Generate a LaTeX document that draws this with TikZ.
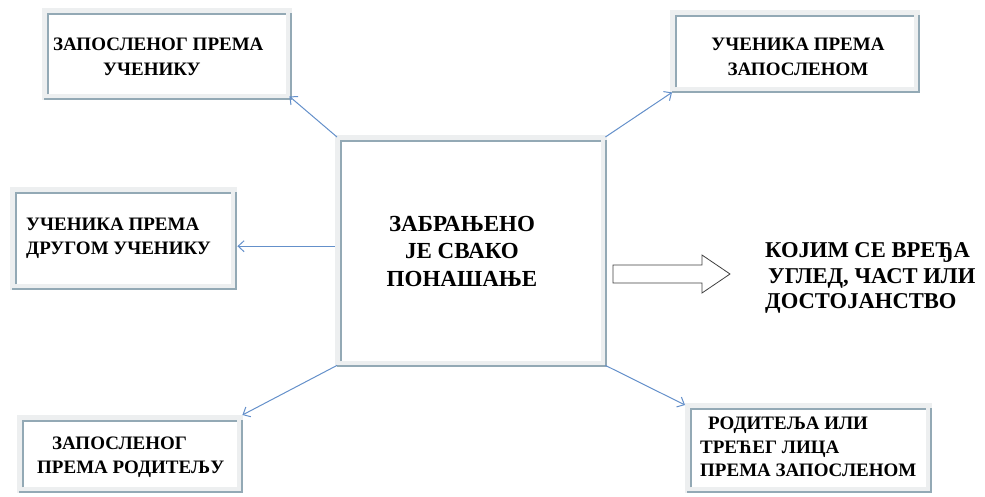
\documentclass[tikz,border=0pt]{standalone}
\usepackage{fontspec}
\setmainfont{Liberation Serif}
\usetikzlibrary{arrows.meta,calc}
\definecolor{bandgrey}{HTML}{EDEFF0}
\definecolor{framecol}{HTML}{93A9B5}
\definecolor{linkcol}{HTML}{6490CA}
\tikzset{
  outerbox/.style={rectangle, fill=bandgrey, inner sep=0pt, anchor=north west},
  frameline/.style={draw=framecol, line width=2.7pt},
  txt/.style={inner sep=0pt, font=\bfseries\fontsize{19}{24.5}\selectfont},
  bigtxt/.style={inner sep=0pt, font=\bfseries\fontsize{23}{27.5}\selectfont},
  link/.style={draw=linkcol, line width=1pt, -{Straight Barb[length=6pt,width=11pt,line width=1pt]}},
}
\newcommand\framedeco[1]{%
  \fill[white] ($(#1.north west)+(6,6)$) rectangle ($(#1.south east)+(-6,-6)$);
  \draw[frameline] ($(#1.south west)+(6,-6)$) -- ($(#1.north west)+(6,6)$) -- ($(#1.north east)+(-6,6)$);
  \draw[frameline] ($(#1.south west)+(2,-1.3)$) -- ($(#1.south east)+(-1.3,-1.3)$) -- ($(#1.north east)+(-1.3,5)$);
}
\begin{document}
\begin{tikzpicture}[x=1pt,y=-1pt]
\useasboundingbox (0,0) rectangle (985,496);
% boxes
\node[outerbox, minimum width=250pt, minimum height=92pt] (tl) at (42,8) {};
\framedeco{tl}
\node[outerbox, minimum width=250pt, minimum height=83pt] (tr) at (670,10) {};
\framedeco{tr}
\node[outerbox, minimum width=272pt, minimum height=232pt] (ctr) at (335,135) {};
\framedeco{ctr}
\node[outerbox, minimum width=227pt, minimum height=103pt] (lm) at (10,187) {};
\framedeco{lm}
\node[outerbox, minimum width=226pt, minimum height=78pt] (bl) at (17,415) {};
\framedeco{bl}
\node[outerbox, minimum width=247pt, minimum height=90pt] (br) at (685,403) {};
\framedeco{br}
% texts
\node[txt, align=left, anchor=west] (tltxt) at (53,57) {ЗАПОСЛЕНОГ ПРЕМА\\\hspace*{50pt}УЧЕНИКУ};
\node[txt, align=center] (trtxt) at (798,57) {УЧЕНИКА ПРЕМА\\ЗАПОСЛЕНОМ};
\node[bigtxt, align=center] (ctrtxt) at (462,251) {ЗАБРАЊЕНО\\ЈЕ СВАКО\\ПОНАШАЊЕ};
\node[txt, align=left, anchor=west] (lmtxt) at (26,238) {УЧЕНИКА ПРЕМА\\ДРУГОМ УЧЕНИКУ};
\node[txt, align=left, anchor=west] (bltxt) at (37,457) {\hspace*{15pt}ЗАПОСЛЕНОГ\\ПРЕМА РОДИТЕЉУ};
\node[txt, align=left, anchor=west, font=\bfseries\fontsize{19}{23.5}\selectfont] (brtxt) at (700,447) {\hspace*{8pt}РОДИТЕЉА ИЛИ\\ТРЕЋЕГ ЛИЦА\\ПРЕМА ЗАПОСЛЕНОМ};
\node[bigtxt, align=left, anchor=west, font=\bfseries\fontsize{22.6}{25.5}\selectfont] (rtxt) at (765,278) {КОЈИМ СЕ ВРЕЂА\\\hspace*{3pt}УГЛЕД, ЧАСТ ИЛИ\\ДОСТОЈАНСТВО};
% block arrow
\draw[draw=black!75, line width=0.8pt, fill=white] (613,265) -- (702,265) -- (702,255) -- (730,274) -- (702,293) -- (702,283) -- (613,283) -- cycle;
% connectors
\draw[link] ($(ctr.north west)+(2,2)$) -- ($(tl.south east)+(-3,-4)$);
\draw[link] ($(ctr.north east)+(-2,2)$) -- ($(tr.south west)+(2,-1)$);
\coordinate (lstart) at ($(ctr.west)+(0,-5)$);
\draw[link] (lstart) -- (lstart -| lm.east);
\draw[link] ($(ctr.south west)+(2,-2)$) -- ($(bl.north east)+(-1,0)$);
\draw[link] ($(ctr.south east)+(-2,-2)$) -- ($(br.north west)+(0,2)$);
\end{tikzpicture}
\end{document}
